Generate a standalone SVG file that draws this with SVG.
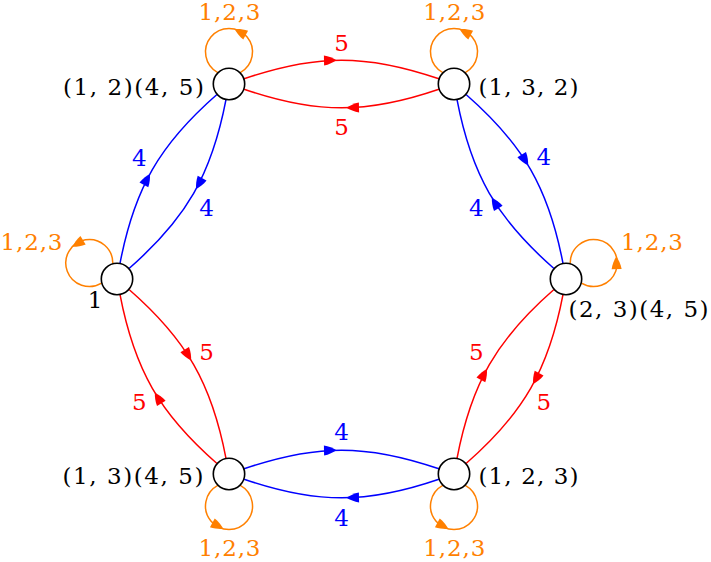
<svg xmlns="http://www.w3.org/2000/svg" width="711" height="562" viewBox="0 0 711 562">
<style>
text{font-family:'DejaVu Serif','Liberation Serif',serif;font-size:23px}
.lbl{fill:#000}
.e{fill:none;stroke-width:1.5}
.er{stroke:#ff0000}.eb{stroke:#0000ff}.eo{stroke:#ff8000}
.fr{fill:#ff0000}.fb{fill:#0000ff}.fo{fill:#ff8000}
.node{fill:#fff;stroke:#000;stroke-width:1.6}
</style>
<defs>
<path id="ah" d="M0,0 C-3,-2 -8,-4.3 -12.5,-5 L-12.5,5 C-8,4.3 -3,2 0,0 Z"/>
</defs>
<rect width="711" height="562" fill="#fff"/>
<g id="connectors">
<path class="e er" d="M244.13,78.79 C316.21,53.97 366.79,53.97 438.87,78.79"/>
<path class="e er" d="M438.87,89.21 C366.79,114.03 316.21,114.03 244.13,89.21"/>
<use href="#ah" class="fr" transform="translate(336.5,60.2) rotate(-1.26)"/>
<use href="#ah" class="fr" transform="translate(346.5,107.8) rotate(178.74)"/>
<path class="e eb" d="M466.05,94.52 C523.47,144.67 548.60,188.42 562.98,263.28"/>
<path class="e eb" d="M553.94,268.46 C496.52,218.32 471.39,174.57 457.02,99.71"/>
<use href="#ah" class="fb" transform="translate(528.15,165.31) rotate(58.87)"/>
<use href="#ah" class="fb" transform="translate(491.85,197.68) rotate(238.87)"/>
<path class="e er" d="M562.98,294.71 C548.61,369.57 523.48,413.32 466.06,463.46"/>
<path class="e er" d="M457.02,458.28 C471.40,383.42 496.53,339.67 553.95,289.52"/>
<use href="#ah" class="fr" transform="translate(533.13,384.01) rotate(118.61)"/>
<use href="#ah" class="fr" transform="translate(486.87,368.98) rotate(298.61)"/>
<path class="e eb" d="M438.87,479.21 C366.79,504.03 316.21,504.03 244.13,479.21"/>
<path class="e eb" d="M244.13,468.79 C316.21,443.97 366.79,443.97 438.87,468.79"/>
<use href="#ah" class="fb" transform="translate(346.5,497.8) rotate(178.74)"/>
<use href="#ah" class="fb" transform="translate(336.5,450.2) rotate(-1.26)"/>
<path class="e er" d="M216.95,463.48 C159.53,413.33 134.40,369.58 120.02,294.72"/>
<path class="e er" d="M129.06,289.54 C186.48,339.68 211.61,383.43 225.98,458.29"/>
<use href="#ah" class="fr" transform="translate(154.85,392.69) rotate(238.87)"/>
<use href="#ah" class="fr" transform="translate(191.15,360.32) rotate(58.87)"/>
<path class="e eb" d="M120.02,263.29 C134.39,188.43 159.52,144.68 216.94,94.54"/>
<path class="e eb" d="M225.98,99.72 C211.60,174.58 186.47,218.33 129.05,268.48"/>
<use href="#ah" class="fb" transform="translate(149.87,173.99) rotate(298.61)"/>
<use href="#ah" class="fb" transform="translate(196.13,189.02) rotate(118.61)"/>
<path class="e eo" d="M240.25,72.63 A23.5,23.5 0 1 0 217.75,72.63"/>
<use href="#ah" class="fo" transform="translate(234.69,29.2) rotate(-151.4)"/>
<path class="e eo" d="M465.25,72.63 A23.5,23.5 0 1 0 442.75,72.63"/>
<use href="#ah" class="fo" transform="translate(459.69,29.2) rotate(-151.4)"/>
<path class="e eo" d="M442.75,485.37 A23.5,23.5 0 1 0 465.25,485.37"/>
<use href="#ah" class="fo" transform="translate(448.31,528.8) rotate(28.6)"/>
<path class="e eo" d="M217.75,485.37 A23.5,23.5 0 1 0 240.25,485.37"/>
<use href="#ah" class="fo" transform="translate(223.31,528.8) rotate(28.6)"/>
<path class="e eo" d="M581.47,283.06 A23.5,23.5 0 1 0 570.22,263.57"/>
<use href="#ah" class="fo" transform="translate(616.3,256.52) rotate(-91.4)"/>
<path class="e eo" d="M112.78,263.57 A23.5,23.5 0 1 0 101.53,283.06"/>
<use href="#ah" class="fo" transform="translate(72.39,246.67) rotate(148.6)"/>
<g text-anchor="middle">
<text class="fr" x="341.5" y="51">5</text>
<text class="fr" x="341.5" y="135">5</text>
<text class="fb" x="543.7" y="165">4</text>
<text class="fb" x="476.3" y="216">4</text>
<text class="fr" x="476.3" y="359.5">5</text>
<text class="fr" x="543.7" y="409.5">5</text>
<text class="fb" x="341.5" y="440">4</text>
<text class="fb" x="341.5" y="525.5">4</text>
<text class="fr" x="206.5" y="359.5">5</text>
<text class="fr" x="139.3" y="409.5">5</text>
<text class="fb" x="139.3" y="165.5">4</text>
<text class="fb" x="206.5" y="216">4</text>
<text class="fo" x="229.5" y="20" textLength="62" lengthAdjust="spacing">1,2,3</text>
<text class="fo" x="454.3" y="20" textLength="62" lengthAdjust="spacing">1,2,3</text>
<text class="fo" x="31.5" y="250" textLength="62" lengthAdjust="spacing">1,2,3</text>
<text class="fo" x="652" y="250" textLength="62" lengthAdjust="spacing">1,2,3</text>
<text class="fo" x="229.5" y="556" textLength="62" lengthAdjust="spacing">1,2,3</text>
<text class="fo" x="454.3" y="556" textLength="62" lengthAdjust="spacing">1,2,3</text>
</g>
</g>
<g id="n12_45">
<circle class="node" cx="229" cy="84" r="15.7"/>
<text class="lbl" x="63" y="94.5" textLength="141" lengthAdjust="spacing">(1, 2)(4, 5)</text>
</g>
<g id="n132">
<circle class="node" cx="454" cy="84" r="15.7"/>
<text class="lbl" x="478.5" y="95" textLength="100" lengthAdjust="spacing">(1, 3, 2)</text>
</g>
<g id="n23_45">
<circle class="node" cx="566" cy="279" r="15.7"/>
<text class="lbl" x="568.5" y="316.5" textLength="140" lengthAdjust="spacing">(2, 3)(4, 5)</text>
</g>
<g id="n123">
<circle class="node" cx="454" cy="474" r="15.7"/>
<text class="lbl" x="478.5" y="483.5" textLength="100" lengthAdjust="spacing">(1, 2, 3)</text>
</g>
<g id="n13_45">
<circle class="node" cx="229" cy="474" r="15.7"/>
<text class="lbl" x="62.5" y="483.5" textLength="141" lengthAdjust="spacing">(1, 3)(4, 5)</text>
</g>
<g id="n1">
<circle class="node" cx="117" cy="279" r="15.7"/>
<text class="lbl" x="95" y="308" text-anchor="middle">1</text>
</g>
</svg>
